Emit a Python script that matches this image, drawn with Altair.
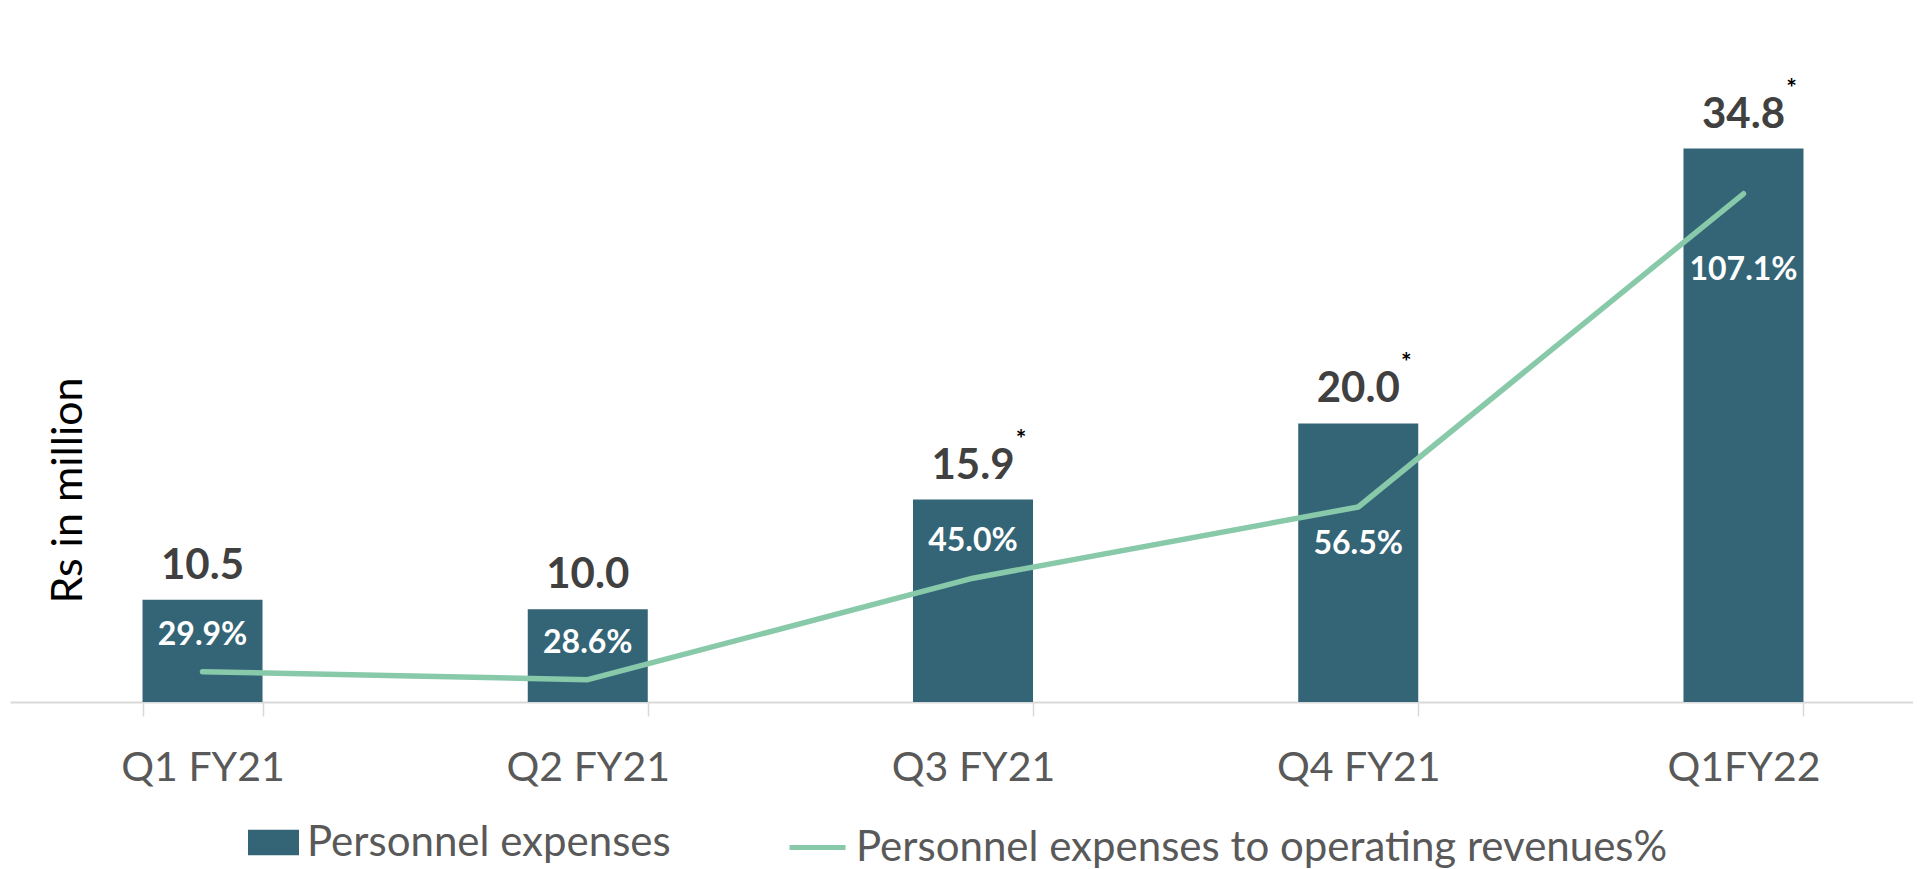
import altair as alt
import pandas as pd

# ---- data ----
quarters = ["Q1 FY21", "Q2 FY21", "Q3 FY21", "Q4 FY21", "Q1FY22"]
expenses = [10.5, 10.0, 15.9, 20.0, 34.8]          # Rs in million
ratio = [29.9, 28.6, 45.0, 56.5, 107.1]            # % of operating revenues
footnote = ["", "", "*", "*", "*"]

BAR_NAME = "Personnel expenses"
LINE_NAME = "Personnel expenses to operating revenues%"

BAR = "#346576"
LINE = "#88C9AA"
DARK = "#404040"
GREY = "#595959"
AXIS_GREY = "#D9D9D9"
FONT = "Lato"

df = pd.DataFrame({"quarter": quarters, "expenses": expenses,
                   "ratio": ratio, "note": footnote})

x_axis = alt.Axis(title=None, labelAngle=0, labelFont=FONT, labelFontSize=41,
                  labelColor=GREY, labelBaseline="alphabetic", labelPadding=64,
                  tickSize=14, tickColor=AXIS_GREY, tickWidth=1.5,
                  domainColor=AXIS_GREY, domainWidth=2, tickBand="extent",
                  grid=False, labelLimit=400)
x_enc = alt.X("quarter:N", sort=quarters,
              scale=alt.Scale(range=[0, 1926], paddingInner=0.6885, paddingOuter=0.344),
              axis=x_axis)

base = alt.Chart(df).encode(x=x_enc)

y_left = alt.Scale(domain=[5, 40], nice=False, zero=False)
y_right = alt.Scale(domain=[25, 130], nice=False, zero=False)

y_axis = alt.Axis(title="Rs in million", labels=False, ticks=False, domain=False,
                  grid=False, titleFont=FONT, titleFontSize=43,
                  titleFontWeight="normal", titleColor="#000000", titleAngle=270,
                  titleX=58, titleY=438, titleAlign="center", titleBaseline="middle")

leg_bar = alt.Legend(title=None, orient="none", legendX=238, legendY=765,
                     symbolType="M-1,-0.5H1V0.5H-1Z", symbolSize=2601,
                     symbolStrokeWidth=0, labelFont=FONT, labelFontSize=42,
                     labelColor=GREY, labelOffset=8, padding=0, labelLimit=1500)
leg_line = alt.Legend(title=None, orient="none", legendX=777, legendY=765,
                      symbolType="stroke", symbolSize=3136, symbolStrokeWidth=5,
                      labelFont=FONT, labelFontSize=42, labelColor=GREY,
                      labelOffset=8, padding=0, labelLimit=1500)

bars = base.transform_calculate(series="'" + BAR_NAME + "'").mark_bar(clip=True).encode(
    y=alt.Y("expenses:Q", scale=y_left, axis=y_axis),
    color=alt.Color("series:N", scale=alt.Scale(domain=[BAR_NAME], range=[BAR]),
                    legend=leg_bar),
)

line = base.transform_calculate(series2="'" + LINE_NAME + "'").mark_line(
    strokeWidth=5.5, strokeCap="round", strokeJoin="round").encode(
    y=alt.Y("ratio:Q", scale=y_right, axis=None),
    color=alt.Color("series2:N", scale=alt.Scale(domain=[LINE_NAME], range=[LINE]),
                    legend=leg_line),
)

bar_labels = base.mark_text(font=FONT, fontSize=42, fontWeight="bold", color=DARK,
                            baseline="alphabetic", dy=-21).encode(
    y=alt.Y("expenses:Q", scale=y_left, axis=None),
    text=alt.Text("expenses:Q", format=".1f"),
)

stars = base.transform_filter("datum.note != ''").mark_text(
    font=FONT, fontSize=25, fontWeight="bold", color="#000000", baseline="middle",
    dx=48, dy=-60).encode(
    y=alt.Y("expenses:Q", scale=y_left, axis=None),
    text="note:N",
)

pct_high = base.transform_filter("datum.ratio >= 50").transform_calculate(
    pl="format(datum.ratio, '.1f') + '%'").mark_text(
    font=FONT, fontSize=32, fontWeight="bold", color="#FFFFFF",
    baseline="alphabetic", dy=131).encode(
    y=alt.Y("expenses:Q", scale=y_left, axis=None),
    text="pl:N",
)

pct_low = base.transform_filter("datum.ratio < 50").transform_calculate(
    pl="format(datum.ratio, '.1f') + '%'").mark_text(
    font=FONT, fontSize=32, fontWeight="bold", color="#FFFFFF",
    baseline="alphabetic", dy=-27).encode(
    y=alt.Y("ratio:Q", scale=y_right, axis=None),
    text="pl:N",
)

chart = alt.layer(bars, line, bar_labels, stars, pct_high, pct_low).resolve_scale(
    y="independent", color="independent"
).properties(
    width=1903, height=650,
    autosize=alt.AutoSizeParams(type="none"),
    padding={"left": 2, "top": 44, "right": 0, "bottom": 166},
).configure_view(stroke=None)

chart.save("out.html", embed_options={"renderer": "svg", "actions": False})
